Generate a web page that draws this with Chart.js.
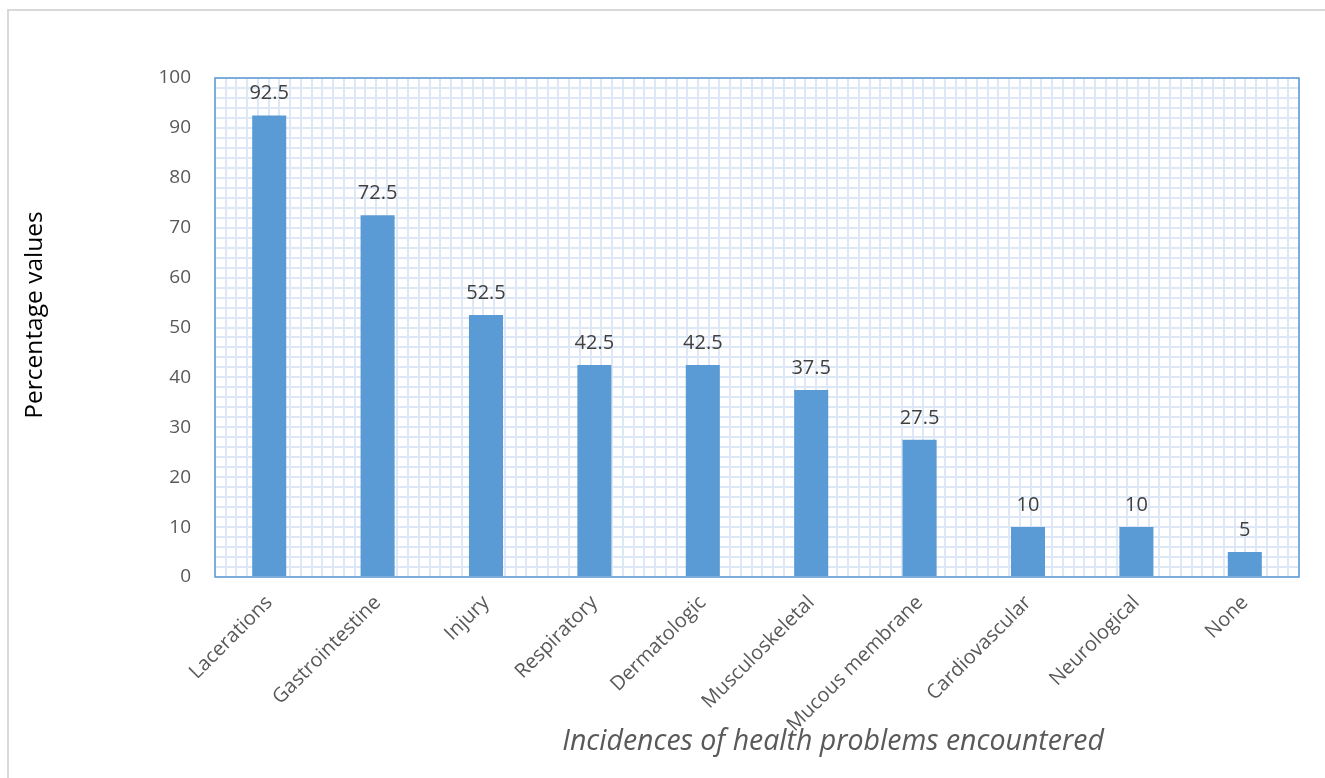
<!DOCTYPE html>
<html>
<head>
<meta charset="utf-8">
<script src="https://cdn.jsdelivr.net/npm/chart.js@4/dist/chart.umd.min.js"></script>
<style>
  html, body { margin: 0; padding: 0; background: #fff; }
  #wrap { position: relative; width: 1325px; height: 778px; overflow: hidden; }
  #frame { position: absolute; left: 7px; top: 9px; width: 1330px; height: 790px; border: 2px solid #d9d9d9; box-sizing: border-box; }
  canvas { position: absolute; left: 0; top: 0; }
</style>
</head>
<body>
<div id="wrap">
  <div id="frame"></div>
  <canvas id="c" width="1325" height="778"></canvas>
</div>
<script>
// categories and percentage values
const categories = [
  "Lacerations", "Gastrointestine", "Injury", "Respiratory", "Dermatologic",
  "Musculoskeletal", "Mucous membrane", "Cardiovascular", "Neurological", "None",
]
const percentages = [92.5, 72.5, 52.5, 42.5, 42.5, 37.5, 27.5, 10, 10, 5]
const yTitle = "Percentage values"
const xTitle = "Incidences of health problems encountered"

const BAR = "#5b9bd5"
const INK = "#595959"
const FONT = "'Open Sans', Lato, sans-serif"

// value labels above the bars + plot frame + axis titles
const decorations = {
  id: "decorations",
  afterDatasetsDraw(chart) {
    const { ctx, chartArea } = chart
    ctx.save()
    ctx.strokeStyle = BAR
    ctx.lineWidth = 1.5
    ctx.strokeRect(chartArea.left, chartArea.top, chartArea.right - chartArea.left, chartArea.bottom - chartArea.top)

    ctx.fillStyle = "#404040"
    ctx.font = `20px ${FONT}`
    ctx.textAlign = "center"
    ctx.textBaseline = "alphabetic"
    chart.getDatasetMeta(0).data.forEach((bar, i) => {
      ctx.fillText(String(percentages[i]), bar.x, bar.y - 16)
    })
    ctx.restore()
  },
  afterDraw(chart) {
    const { ctx } = chart
    ctx.save()
    ctx.fillStyle = INK
    ctx.font = `italic 28.5px ${FONT}`
    ctx.textAlign = "center"
    ctx.textBaseline = "middle"
    ctx.fillText(xTitle, 833, 742)

    ctx.fillStyle = "#000"
    ctx.font = `24.5px ${FONT}`
    ctx.translate(35, 315)
    ctx.rotate(-Math.PI / 2)
    ctx.fillText(yTitle, 0, 0)
    ctx.restore()
  },
}

new Chart(document.getElementById("c"), {
  type: "bar",
  data: {
    labels: categories,
    datasets: [{
      data: percentages,
      backgroundColor: BAR,
      borderWidth: 0,
      barPercentage: 0.314,
      categoryPercentage: 1.0,
    }],
  },
  options: {
    responsive: false,
    animation: false,
    layout: { padding: { top: 78, right: 26, bottom: 0, left: 0 } },
    plugins: { legend: { display: false }, tooltip: { enabled: false } },
    scales: {
      x: {
        offset: true,
        grid: { display: false, drawTicks: false },
        border: { display: false },
        ticks: { color: INK, font: { family: FONT, size: 20 }, minRotation: 45, maxRotation: 45, padding: 14, autoSkip: false },
        afterFit(s) { s.height = 201 },
      },
      y: {
        min: 0, max: 100,
        z: -1,
        grid: { color: "#d9d9d9", lineWidth: 2, drawTicks: false },
        border: { display: false },
        ticks: { stepSize: 10, color: INK, font: { family: FONT, size: 19 }, padding: 24 },
        afterFit(s) { s.width = 215 },
      },
      // minor grid, light blue squares
      xMinor: {
        type: "linear", position: "top", min: 0, max: 100,
        z: -2,
        grid: { color: "#dde7f5", lineWidth: 2, drawTicks: false },
        border: { display: false },
        ticks: { display: false, stepSize: 1, maxTicksLimit: 1000 },
        afterFit(s) { s.height = 0 },
      },
      yMinor: {
        type: "linear", position: "right", min: 0, max: 100,
        z: -2,
        grid: { color: "#dde7f5", lineWidth: 2, drawTicks: false },
        border: { display: false },
        ticks: { display: false, stepSize: 2, maxTicksLimit: 1000 },
        afterFit(s) { s.width = 0 },
      },
    },
  },
  plugins: [decorations],
})
</script>
</body>
</html>
